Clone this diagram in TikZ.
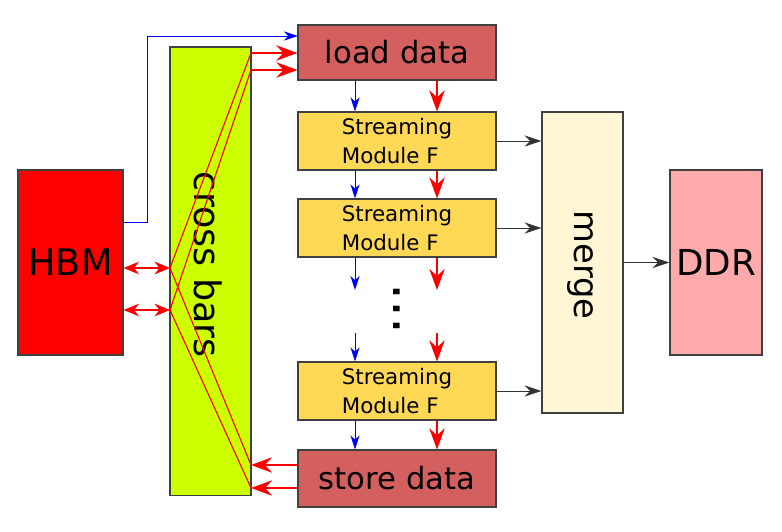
\documentclass[tikz,border=0pt]{standalone}
\usepackage{fontspec}
\setmainfont{DejaVu Sans}
\usetikzlibrary{arrows.meta,positioning}

\definecolor{hbmred}{HTML}{FF0000}
\definecolor{xbargreen}{HTML}{CCFF00}
\definecolor{iored}{HTML}{D35F5F}
\definecolor{smyellow}{HTML}{FFD955}
\definecolor{mergecream}{HTML}{FFF6D5}
\definecolor{ddrpink}{HTML}{FFAAAA}

\newcommand{\fs}[1]{\fontsize{#1}{1.4\dimexpr#1pt\relax}\selectfont}

\begin{document}
\begin{tikzpicture}
    [x=0.025cm, y=-0.025cm,
    box/.style={draw=black!75, line width=0.8pt, inner sep=0pt},
    redarr/.style={red, line width=1pt, -{Stealth[length=15pt,width=11pt,inset=5pt]}},
    dblarr/.style={red, line width=1pt, {Stealth[length=11pt,width=9pt,inset=3.5pt]}-{Stealth[length=11pt,width=9pt,inset=3.5pt]}},
    bluearr/.style={blue, line width=0.7pt, -{Stealth[length=10pt,width=6.5pt,inset=3pt]}},
    blackarr/.style={black!80, line width=0.7pt, -{Stealth[length=12pt,width=8pt,inset=4pt]}},
    xline/.style={red, line width=0.8pt}]
        \useasboundingbox (0,0) rectangle (782,532);

        %% boxes
        \node[box, fill=hbmred, minimum width=2.625cm, minimum height=4.625cm, font=\fs{26}] (HBM) at (70.5,262.5) {HBM};
        \node[box, fill=xbargreen, minimum width=2.025cm, minimum height=11.2cm] (cross) at (210.5,271) {};
        \node[rotate=-90, font=\fs{26}] (crosstxt) at (208,265) {cross bars};
        \node[box, fill=iored, minimum width=4.95cm, minimum height=1.375cm, font=\fs{21.8}] (load) at (397,52.5) {load data};
        \node[box, fill=smyellow, minimum width=4.95cm, minimum height=1.45cm, align=left, font=\fs{15.2}] (sm1) at (397,141) {Streaming\\Module F};
        \node[box, fill=smyellow, minimum width=4.95cm, minimum height=1.45cm, align=left, font=\fs{15.2}] (sm2) at (397,228) {Streaming\\Module F};
        \node[box, fill=smyellow, minimum width=4.95cm, minimum height=1.45cm, align=left, font=\fs{15.2}] (sm3) at (397,391) {Streaming\\Module F};
        \node[box, fill=iored, minimum width=4.95cm, minimum height=1.425cm, font=\fs{21.8}] (store) at (397,478.5) {store data};
        \node[box, fill=mergecream, minimum width=2.025cm, minimum height=7.525cm] (merge) at (582.5,262.5) {};
        \node[rotate=-90, font=\fs{24}] (mergetxt) at (580,265) {merge};
        \node[box, fill=ddrpink, minimum width=2.3cm, minimum height=4.625cm, font=\fs{25.4}] (DDR) at (716,262.5) {DDR};
        \node[rotate=-90, font=\fs{38}] (dots) at (397,309) {...};

        %% ports
        \coordinate (hp1) at (170,268);
        \coordinate (hp2) at (170,310);
        \coordinate (lp1) at (251,53);
        \coordinate (lp2) at (251,70);
        \coordinate (sp1) at (251,465);
        \coordinate (sp2) at (251,488);
        \coordinate (hb) at (123,222);
        \coordinate (lb) at (298,36);
        \coordinate (bx) at (355,0);
        \coordinate (rx) at (437,0);
        \coordinate (gapT) at (0,290);
        \coordinate (gapB) at (0,333);

        %% cross bar wiring
        \draw[xline] (lp1) -- (hp1) -- (sp1);
        \draw[xline] (lp2) -- (hp2) -- (sp2);
        \draw[dblarr] (HBM.east |- hp1) -- (hp1);
        \draw[dblarr] (HBM.east |- hp2) -- (hp2);
        \draw[bluearr] (hb) -- ++(24,0) |- (lb);
        \draw[redarr] (lp1) -- (lp1 -| load.west);
        \draw[redarr] (lp2) -- (lp2 -| load.west);
        \draw[redarr] (sp1 -| store.west) -- (sp1);
        \draw[redarr] (sp2 -| store.west) -- (sp2);

        %% streams
        \draw[bluearr] (load.south -| bx) -- (sm1.north -| bx);
        \draw[redarr] (load.south -| rx) -- (sm1.north -| rx);
        \draw[bluearr] (sm1.south -| bx) -- (sm2.north -| bx);
        \draw[redarr] (sm1.south -| rx) -- (sm2.north -| rx);
        \draw[bluearr] (sm2.south -| bx) -- (gapT -| bx);
        \draw[redarr] (sm2.south -| rx) -- (gapT -| rx);
        \draw[bluearr] (gapB -| bx) -- (sm3.north -| bx);
        \draw[redarr] (gapB -| rx) -- (sm3.north -| rx);
        \draw[bluearr] (sm3.south -| bx) -- (store.north -| bx);
        \draw[redarr] (sm3.south -| rx) -- (store.north -| rx);

        %% outputs
        \draw[blackarr] (sm1.east) -- (sm1.east -| merge.west);
        \draw[blackarr] (sm2.east) -- (sm2.east -| merge.west);
        \draw[blackarr] (sm3.east) -- (sm3.east -| merge.west);
        \draw[blackarr] (merge.east) -- (DDR.west);
\end{tikzpicture}
\end{document}
